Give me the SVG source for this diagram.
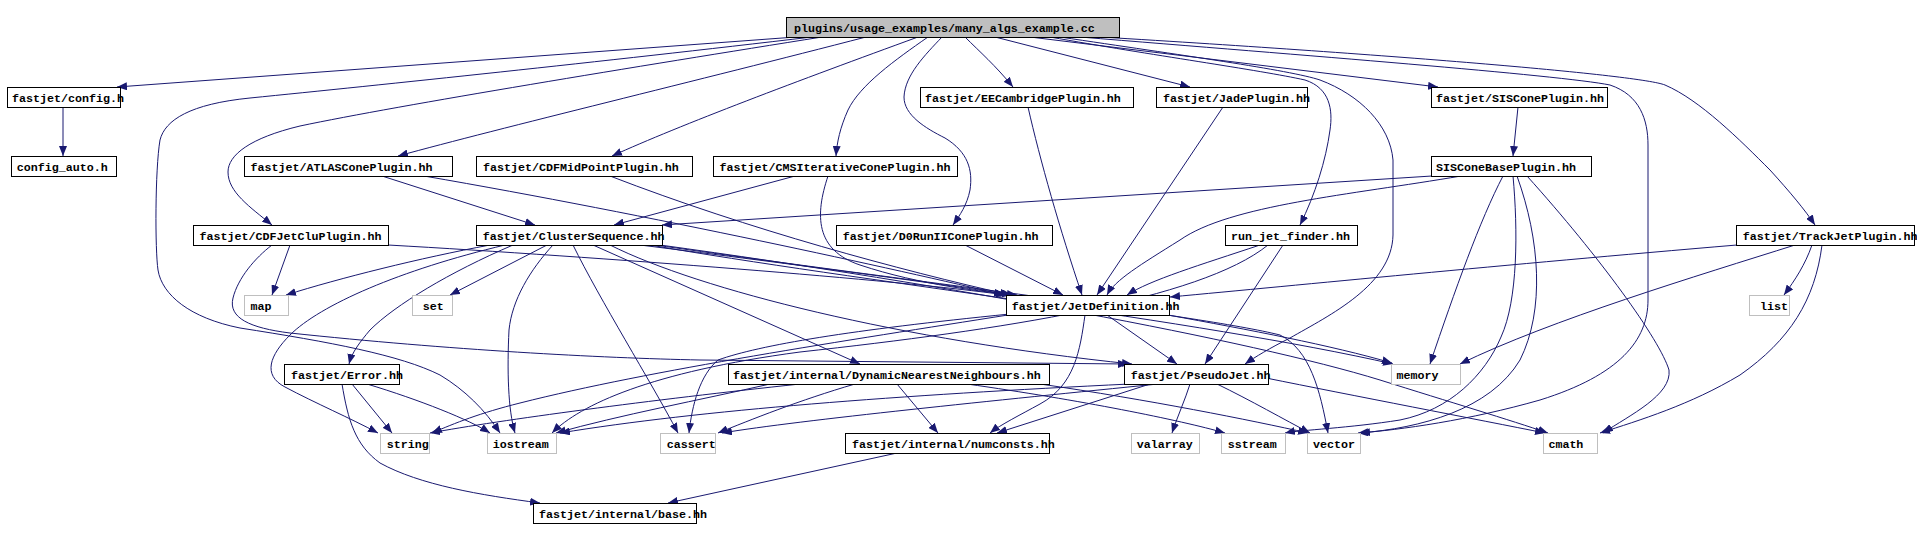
<svg xmlns="http://www.w3.org/2000/svg" width="1917" height="540" viewBox="0 0 1917 540">
<defs>
<marker id="a" markerUnits="userSpaceOnUse" markerWidth="10" markerHeight="8" viewBox="0 0 10 8" refX="10" refY="4" orient="auto"><path d="M0,0 L10,4 L0,8 z" fill="#191970"/></marker>
<style>
.n rect{fill:#fff;stroke:#000;stroke-width:1}
.s rect{fill:#fff;stroke:#bfbfbf;stroke-width:1}
#main rect{fill:#bfbfbf;stroke:#000}
text{font-family:"Liberation Mono","DejaVu Sans Mono",monospace;font-size:11.67px;font-weight:bold;fill:#000}
#edges path{fill:none;stroke:#191970;stroke-width:1;marker-end:url(#a)}
</style>
</defs>
<rect width="1917" height="540" fill="#fff"/>
<g id="edges">
<path d="M796,37 L117,87"/>
<path d="M812,37 C600,62 380,85 250,98 C190,104 165,120 160,140 C155,170 155,250 158,270 C162,295 190,318 240,328 C330,342 400,355 440,375 C465,390 485,410 500,433"/>
<path d="M822,37 C640,66 400,105 300,126 C250,138 228,155 228,172 C228,192 250,207 272,225"/>
<path d="M866,37 C700,80 500,128 398,156"/>
<path d="M918,37 C800,80 680,125 612,156"/>
<path d="M928,37 C895,60 860,85 848,110 C840,128 837,142 836,156"/>
<path d="M942,37 C925,55 905,75 904,97 C904,115 925,128 945,138 C968,152 973,170 970,190 C967,205 960,215 953,225"/>
<path d="M965,37 C980,52 995,65 1013,87"/>
<path d="M995,37 L1190,87"/>
<path d="M1030,37 L1438,87"/>
<path d="M1050,37 C1150,55 1260,70 1305,80 C1330,88 1333,110 1330,130 C1326,160 1315,195 1300,225"/>
<path d="M1060,37 C1180,55 1290,70 1320,80 C1360,95 1390,125 1393,160 L1393,235 C1392,285 1330,315 1290,338 C1270,348 1255,357 1245,364"/>
<path d="M1080,37 C1300,55 1560,75 1610,85 C1640,95 1648,120 1648,145 L1648,300 C1648,340 1620,375 1540,400 C1470,420 1400,430 1358,433"/>
<path d="M1100,37 C1400,55 1640,75 1665,85 C1700,100 1740,140 1770,170 C1790,192 1805,210 1815,225"/>
<path d="M63,107 L63,156"/>
<path d="M1518,107 L1513,156"/>
<path d="M382,176 L535,225"/>
<path d="M424,176 C650,215 900,270 1004,295"/>
<path d="M610,176 C750,230 900,270 1010,295"/>
<path d="M795,176 L614,225"/>
<path d="M828,176 C815,215 815,250 860,265 C920,285 985,292 1017,295"/>
<path d="M290,245 L272,295"/>
<path d="M388,245 C600,257 900,280 1006,295"/>
<path d="M272,245 C255,258 238,278 233,298 C228,318 250,328 290,333 C450,350 600,358 700,360 L1128,364"/>
<path d="M490,245 C420,258 340,278 286,295"/>
<path d="M505,245 C400,270 320,305 290,335 C270,355 262,375 285,387 C315,403 350,418 378,433"/>
<path d="M513,245 C450,272 395,305 370,330 C360,342 352,352 349,364"/>
<path d="M547,245 L450,295"/>
<path d="M553,245 C530,270 512,300 509,330 C507,370 508,410 515,433"/>
<path d="M573,245 C600,300 650,380 678,433"/>
<path d="M593,245 L860,364"/>
<path d="M610,245 C700,290 900,340 1132,364"/>
<path d="M640,245 C800,265 950,285 1012,295"/>
<path d="M650,245 C850,280 1200,320 1393,364"/>
<path d="M655,245 C900,280 1200,315 1280,335 C1310,350 1320,390 1328,433"/>
<path d="M660,245 C950,285 1250,340 1380,380 C1450,402 1510,420 1548,433"/>
<path d="M965,245 L1063,295"/>
<path d="M1028,107 C1040,160 1060,230 1082,295"/>
<path d="M1223,107 L1097,295"/>
<path d="M1260,245 C1200,265 1150,280 1127,295"/>
<path d="M1283,245 L1205,364"/>
<path d="M1268,245 C1200,300 1000,330 800,352 C650,372 580,405 552,433"/>
<path d="M1432,176 L662,225"/>
<path d="M1461,176 C1350,195 1230,205 1180,240 C1140,265 1115,280 1107,295"/>
<path d="M1503,176 C1480,220 1455,290 1430,364"/>
<path d="M1513,176 C1518,230 1518,300 1501,337 C1485,375 1450,410 1400,420 C1350,428 1300,430 1285,433"/>
<path d="M1517,176 C1540,240 1545,310 1520,360 C1490,410 1420,428 1360,433"/>
<path d="M1527,176 C1600,257 1660,340 1669,370 C1672,395 1630,415 1603,433"/>
<path d="M1737,245 C1500,265 1300,285 1170,297"/>
<path d="M1812,245 C1805,265 1795,280 1784,295"/>
<path d="M1795,245 C1700,275 1550,320 1460,364"/>
<path d="M1822,245 C1815,300 1790,340 1740,375 C1690,405 1640,420 1600,433"/>
<path d="M1107,315 L1177,364"/>
<path d="M1085,315 C1080,350 1075,385 1040,404 C1020,415 1000,425 990,433"/>
<path d="M1008,315 C850,340 650,370 520,403 C480,413 455,423 432,433"/>
<path d="M1010,314 C850,330 760,345 718,360 C700,375 692,405 689,433"/>
<path d="M1168,315 C1250,330 1330,345 1392,363"/>
<path d="M1190,384 C1185,400 1178,415 1172,433"/>
<path d="M1217,384 C1250,400 1285,420 1310,433"/>
<path d="M1158,384 C1000,400 800,420 722,433"/>
<path d="M1150,384 L997,433"/>
<path d="M1266,378 C1350,395 1480,420 1545,433"/>
<path d="M1130,384 C900,395 700,410 560,433"/>
<path d="M897,384 L938,433"/>
<path d="M855,384 C800,400 750,420 718,433"/>
<path d="M800,384 C650,400 500,420 430,433"/>
<path d="M770,384 C700,400 620,415 556,433"/>
<path d="M967,384 C1080,400 1180,420 1225,433"/>
<path d="M1040,384 C1150,400 1250,420 1308,433"/>
<path d="M352,384 L392,433"/>
<path d="M367,384 C420,400 470,420 490,433"/>
<path d="M342,384 C348,420 355,445 380,463 C420,485 480,495 540,503"/>
<path d="M897,453 L668,503"/>
</g>
<g id="main" class="n"><rect x="786.5" y="17.5" width="333" height="20"/><text x="794" y="31.5">plugins/usage_examples/many_algs_example.cc</text></g>
<g id="config" class="n"><rect x="7.5" y="87.5" width="113" height="20"/><text x="12" y="101.5">fastjet/config.h</text></g>
<g id="eec" class="n"><rect x="920.5" y="87.5" width="213" height="20"/><text x="925" y="101.5">fastjet/EECambridgePlugin.hh</text></g>
<g id="jade" class="n"><rect x="1156.5" y="87.5" width="151" height="20"/><text x="1163" y="101.5">fastjet/JadePlugin.hh</text></g>
<g id="siscone" class="n"><rect x="1431.5" y="87.5" width="176" height="20"/><text x="1436" y="101.5">fastjet/SISConePlugin.hh</text></g>
<g id="configauto" class="n"><rect x="11.5" y="156.5" width="105" height="20"/><text x="16.7" y="170.5">config_auto.h</text></g>
<g id="atlas" class="n"><rect x="244.5" y="156.5" width="208" height="20"/><text x="250.6" y="170.5">fastjet/ATLASConePlugin.hh</text></g>
<g id="cdfmid" class="n"><rect x="476.5" y="156.5" width="216" height="20"/><text x="483" y="170.5">fastjet/CDFMidPointPlugin.hh</text></g>
<g id="cms" class="n"><rect x="713.5" y="156.5" width="244" height="20"/><text x="719.6" y="170.5">fastjet/CMSIterativeConePlugin.hh</text></g>
<g id="sisbase" class="n"><rect x="1431.5" y="156.5" width="160" height="20"/><text x="1436" y="170.5">SISConeBasePlugin.hh</text></g>
<g id="cdfjetclu" class="n"><rect x="193.5" y="225.5" width="195" height="20"/><text x="199.6" y="239.5">fastjet/CDFJetCluPlugin.hh</text></g>
<g id="clusterseq" class="n"><rect x="476.5" y="225.5" width="186" height="20"/><text x="482.7" y="239.5">fastjet/ClusterSequence.hh</text></g>
<g id="d0" class="n"><rect x="836.5" y="225.5" width="216" height="20"/><text x="842.7" y="239.5">fastjet/D0RunIIConePlugin.hh</text></g>
<g id="runjet" class="n"><rect x="1225.5" y="225.5" width="132" height="20"/><text x="1231" y="239.5">run_jet_finder.hh</text></g>
<g id="trackjet" class="n"><rect x="1736.5" y="225.5" width="178" height="20"/><text x="1742.7" y="239.5">fastjet/TrackJetPlugin.hh</text></g>
<g id="map" class="s"><rect x="244.5" y="295.5" width="44" height="20"/><text x="250.6" y="309.5">map</text></g>
<g id="set" class="s"><rect x="412.5" y="295.5" width="40" height="20"/><text x="422.7" y="309.5">set</text></g>
<g id="jetdef" class="n"><rect x="1006.5" y="295.5" width="163" height="20"/><text x="1011.7" y="309.5">fastjet/JetDefinition.hh</text></g>
<g id="list" class="s"><rect x="1749.5" y="295.5" width="40" height="20"/><text x="1760" y="309.5">list</text></g>
<g id="error" class="n"><rect x="284.5" y="364.5" width="115" height="20"/><text x="291" y="378.5">fastjet/Error.hh</text></g>
<g id="dnn" class="n"><rect x="728.5" y="364.5" width="321" height="20"/><text x="733" y="378.5">fastjet/internal/DynamicNearestNeighbours.hh</text></g>
<g id="pseudojet" class="n"><rect x="1124.5" y="364.5" width="144" height="20"/><text x="1130.7" y="378.5">fastjet/PseudoJet.hh</text></g>
<g id="memory" class="s"><rect x="1391.5" y="364.5" width="69" height="20"/><text x="1396.6" y="378.5">memory</text></g>
<g id="string" class="s"><rect x="380.5" y="433.5" width="49" height="20"/><text x="386.7" y="447.5">string</text></g>
<g id="iostream" class="s"><rect x="487.5" y="433.5" width="69" height="20"/><text x="492.7" y="447.5">iostream</text></g>
<g id="cassert" class="s"><rect x="660.5" y="433.5" width="55" height="20"/><text x="666.7" y="447.5">cassert</text></g>
<g id="numconsts" class="n"><rect x="845.5" y="433.5" width="204" height="20"/><text x="852" y="447.5">fastjet/internal/numconsts.hh</text></g>
<g id="valarray" class="s"><rect x="1131.5" y="433.5" width="68" height="20"/><text x="1136.7" y="447.5">valarray</text></g>
<g id="sstream" class="s"><rect x="1221.5" y="433.5" width="64" height="20"/><text x="1227.7" y="447.5">sstream</text></g>
<g id="vector" class="s"><rect x="1307.5" y="433.5" width="53" height="20"/><text x="1313" y="447.5">vector</text></g>
<g id="cmath" class="s"><rect x="1543.5" y="433.5" width="54" height="20"/><text x="1548.4" y="447.5">cmath</text></g>
<g id="base" class="n"><rect x="533.5" y="503.5" width="163" height="20"/><text x="539" y="517.5">fastjet/internal/base.hh</text></g>
</svg>
